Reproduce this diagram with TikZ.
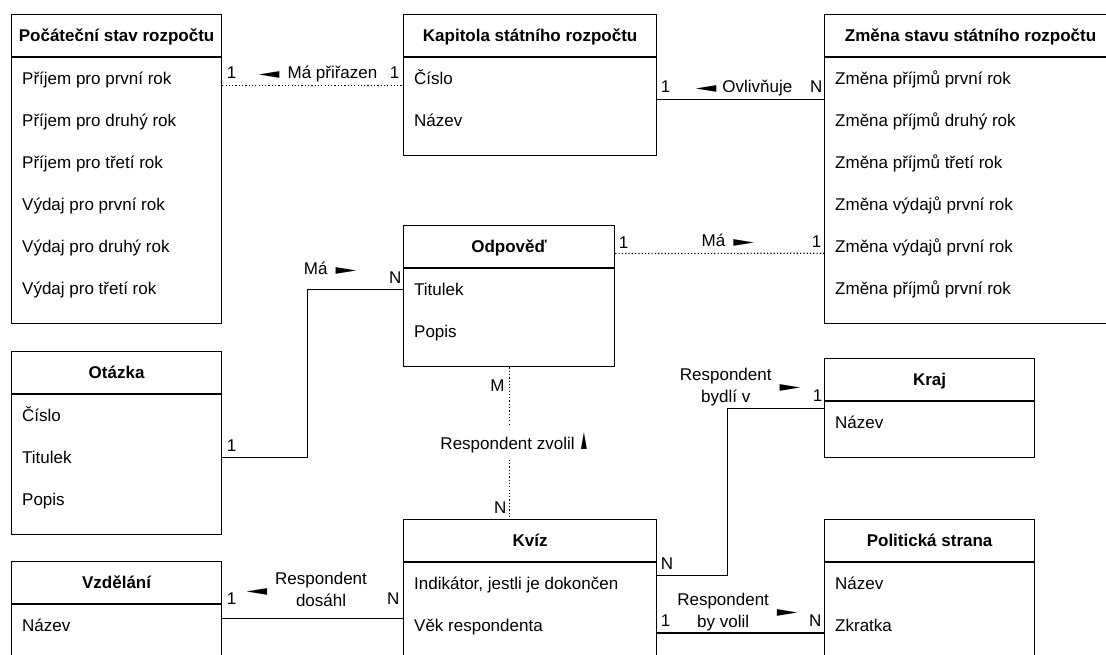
\documentclass[tikz,border=0pt]{standalone}
\usepackage{fontspec}
\setmainfont{Liberation Sans}
\newfontfamily\trojfont{DejaVu Sans}
\usetikzlibrary{positioning,calc}

\newcommand{\vlevo}{\scalebox{1.6}[0.8]{\trojfont ◄}}
\newcommand{\vpravo}{\scalebox{1.6}[0.8]{\trojfont ►}}
\newcommand{\nahoru}{\rotatebox{90}{\scalebox{1.3}[0.7]{\trojfont ►}}}
\newcommand{\entita}[6]{%
  \node[hlava, minimum width=#3, anchor=north west] (#1) at (#2) {#5};
  \node[telo, minimum width=#3, minimum height={42pt*#4+14pt}, anchor=north west] (#1-telo) at (#1.south west) {};
  \foreach \atr [count=\i] in {#6}
    \node[atribut] (#1-\i) at ([xshift=11pt, yshift={-21pt-42pt*(\i-1)}]#1-telo.north west) {\atr};
}

\begin{document}
\begin{tikzpicture}[x=1pt, y=-1pt,
  hlava/.style={draw, line width=1.2pt, minimum height=42pt, inner sep=0pt, text height=12pt, text depth=0pt, font=\fontsize{17}{21.7}\selectfont\bfseries},
  telo/.style={draw, line width=1.2pt, inner sep=0pt},
  atribut/.style={anchor=west, inner sep=0pt, text height=12pt, text depth=0pt, font=\fontsize{17}{21.7}\selectfont},
  kard/.style={inner sep=0pt, text height=12pt, text depth=0pt, font=\fontsize{17}{21.7}\selectfont},
  popis/.style={inner sep=0pt, font=\fontsize{17}{21.7}\selectfont},
  spoj/.style={line width=1.2pt},
  tecky/.style={spoj, dash pattern=on 1.2pt off 2.1pt}]
\useasboundingbox (0,0) rectangle (1106,655);
\clip (0,0) rectangle (1106,655);

\entita{pocatek}{11,14}{210}{6}{Počáteční stav rozpočtu}{Příjem pro první rok, Příjem pro druhý rok, Příjem pro třetí rok, Výdaj pro první rok, Výdaj pro druhý rok, Výdaj pro třetí rok}
\entita{kapitola}{403,14}{253}{2}{Kapitola státního rozpočtu}{Číslo, Název}
\entita{zmena}{824,14}{292}{6}{Změna stavu státního rozpočtu}{Změna příjmů první rok, Změna příjmů druhý rok, Změna příjmů třetí rok, Změna výdajů první rok, Změna výdajů první rok, Změna příjmů první rok}
\entita{odpoved}{403,225}{211}{2}{Odpověď}{Titulek, Popis}
\entita{otazka}{11,351}{210}{3}{Otázka}{Číslo, Titulek, Popis}
\entita{kraj}{824,358}{210}{1}{Kraj}{Název}
\entita{kviz}{403,519}{253}{2}{Kvíz}{{Indikátor, jestli je dokončen}, Věk respondenta}
\entita{strana}{824,519}{210}{2}{Politická strana}{Název, Zkratka}
\entita{vzdelani}{11,561}{210}{1}{Vzdělání}{Název}

% vztahy
\draw[tecky] ($(pocatek-telo.east |- pocatek-1)+(0,7)$) -- ($(kapitola-telo.west |- kapitola-1)+(0,7)$)
  node[kard, pos=0, above right=6pt and 4pt] {1}
  node[kard, pos=1, above left=6pt and 3pt] {1}
  node[kard, pos=.53, above=6pt] {\vlevo\hspace{8pt}Má přiřazen};
\draw[spoj] ($(kapitola-telo.east |- kapitola-1)+(0,21)$) -- ($(zmena-telo.west |- zmena-1)+(0,21)$)
  node[kard, pos=0, above right=6pt and 3pt] {1}
  node[kard, pos=1, above left=6pt and 1pt] {N}
  node[kard, pos=.52, above=6pt] {\vlevo\hspace{6pt}Ovlivňuje};
\draw[tecky] ($(odpoved.east)+(0,7)$) -- ($(zmena-telo.west |- zmena-5)+(0,7)$)
  node[kard, pos=0, above right=5pt and 3pt] {1}
  node[kard, pos=1, above left=5pt and 2pt] {1}
  node[kard, pos=.54, above=6pt] {Má\hspace{8pt}\vpravo};
\draw[spoj] (otazka-telo.east |- otazka-2) node[kard, above right=5pt and 4pt] {1}
  -- ++(85,0) |- (odpoved-telo.west |- odpoved-1)
  node[kard, pos=1, above left=5pt and 1pt] {N}
  node[kard, pos=.62, above=14pt] {Má\hspace{8pt}\vpravo};
\draw[tecky] (odpoved-telo.south) -- (odpoved-telo.south |- kviz.north)
  node[kard, pos=0, below left=11pt and 4pt] {M}
  node[kard, pos=1, above left=5pt and 2pt] {N}
  node[kard, midway, fill=white, inner ysep=10pt, xshift=5pt] {Respondent zvolil\hspace{7pt}\nahoru};
\draw[spoj] ($(kviz-telo.east |- kviz-1)+(0,-8)$) node[kard, above right=5pt and 3pt] {N}
  -- ++(70,0) |- ($(kraj-telo.west |- kraj-1)+(0,-14)$)
  node[kard, pos=1, above left=6pt and 1pt] {1}
  node[popis, pos=.5, xshift=13pt, yshift=21pt] {\begin{tabular}{@{}c@{}}Respondent\\bydlí v\end{tabular}\hspace{8pt}\vpravo};
\draw[spoj] ($(kviz-telo.east |- kviz-2)+(0,7.7)$) -- ($(strana-telo.west |- strana-2)+(0,7.7)$)
  node[kard, pos=0, above right=6pt and 3pt] {1}
  node[kard, pos=1, above left=6pt and 2pt] {N}
  node[popis, midway, xshift=-3pt, yshift=21pt] {\begin{tabular}{@{}c@{}}Respondent\\by volil\end{tabular}\hspace{8pt}\vpravo};
\draw[spoj] ($(vzdelani-telo.east |- vzdelani-1)+(0,-7)$) -- ($(kviz-telo.west |- kviz-2)+(0,-7)$)
  node[kard, pos=0, above right=13pt and 4pt] {1}
  node[kard, pos=1, above left=13pt and 3pt] {N}
  node[popis, midway, xshift=-6pt, yshift=27pt] {\vlevo\hspace{8pt}\begin{tabular}{@{}c@{}}Respondent\\dosáhl\end{tabular}};
\end{tikzpicture}
\end{document}
